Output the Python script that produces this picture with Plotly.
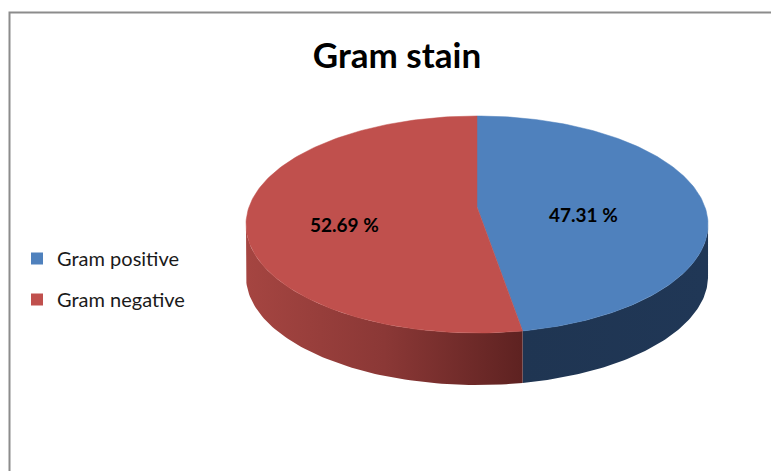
import numpy as np
import plotly.graph_objects as go

# ---- data ----
categories = ["Gram positive", "Gram negative"]
values = [47.31, 52.69]
label_texts = ["47.31 %", "52.69 %"]
title_text = "Gram stain"

# ---- style / geometry (pixel space) ----
W, H = 771, 471
CX, CY = 477.0, 207.0        # projected centre of the pie top face
A, B = 228.0, 105.7          # projection scales
K = 0.1613                   # perspective factor
DEPTH = 52.0                 # thickness of the pie
top_colors = ["#4f81bd", "#c0504d"]
side_scales = [
    [[0, "#1f3552"], [1, "#203756"]],
    [[0, "#a54541"], [0.5, "#8b3836"], [1, "#5e2221"]],
]
label_r = [0.47, 0.58]
FONT = "Lato"


def proj(theta_deg, r=1.0):
    t = np.radians(theta_deg)
    X = r * np.sin(t)
    Z = r * np.cos(t)
    w = 1 + K * Z
    return CX + A * X / w, CY - B * Z / w


total = sum(values)
bounds = [0.0]
for v in values:
    bounds.append(bounds[-1] + 360.0 * v / total)

sil_l = np.degrees(np.arccos(-K))          # right silhouette angle (~99.3)
sil_r = 360 - sil_l                         # left silhouette angle (~260.7)

fig = go.Figure()

# sides (front visible part)
for i in range(len(values)):
    a, b = max(bounds[i], sil_l), min(bounds[i + 1], sil_r)
    if b <= a:
        continue
    t = np.linspace(a, b, 80)
    xs, ys = proj(t)
    px = np.concatenate([xs, xs[::-1]])
    py = np.concatenate([ys, ys[::-1] + DEPTH])
    fig.add_trace(go.Scatter(
        x=px, y=py, mode="lines", fill="toself",
        line=dict(width=0), showlegend=False, hoverinfo="skip",
        fillgradient=dict(type="horizontal", colorscale=side_scales[i]),
    ))

# top faces
for i in range(len(values)):
    t = np.linspace(bounds[i], bounds[i + 1], 160)
    xs, ys = proj(t)
    px = np.concatenate([[CX], xs, [CX]])
    py = np.concatenate([[CY], ys, [CY]])
    fig.add_trace(go.Scatter(
        x=px, y=py, mode="lines", fill="toself", fillcolor=top_colors[i],
        line=dict(width=0.5, color=top_colors[i]), showlegend=False,
        hoverinfo="text", text=f"{categories[i]}: {label_texts[i]}",
    ))

# data labels
for i in range(len(values)):
    mid = (bounds[i] + bounds[i + 1]) / 2
    lx, ly = proj(mid, label_r[i])
    fig.add_annotation(x=lx, y=ly + 12, text=f"<b>{label_texts[i]}</b>",
                       showarrow=False, xanchor="center", yanchor="middle",
                       font=dict(family=FONT, size=19, color="#000000"))

# legend entries
for i, c in enumerate(categories):
    fig.add_trace(go.Scatter(
        x=[None], y=[None], mode="markers", name=c, legendgroup=c,
        marker=dict(symbol="square", size=12, color=top_colors[i]),
    ))

# chart border
fig.add_shape(type="rect", xref="x", yref="y", x0=9.5, y0=12.5, x1=W + 10, y1=H + 10,
              line=dict(color="#8c8c8c", width=2), fillcolor="rgba(0,0,0,0)", layer="below")

fig.update_layout(
    width=W, height=H,
    margin=dict(l=0, r=0, t=0, b=0),
    paper_bgcolor="white", plot_bgcolor="white",
    xaxis=dict(range=[0, W], visible=False, fixedrange=True),
    yaxis=dict(range=[H, 0], visible=False, fixedrange=True),
    title=dict(text=f"<b>{title_text}</b>", x=397 / W, xanchor="center",
               y=1 - 56 / H, yanchor="middle",
               font=dict(family=FONT, size=35, color="#000000")),
    showlegend=True,
    legend=dict(x=17 / W, y=1 - 239 / H, xanchor="left", yanchor="top",
                font=dict(family=FONT, size=20, color="#1a1a1a"),
                tracegroupgap=12, bgcolor="rgba(0,0,0,0)"),
)

fig.write_html("out.html")
